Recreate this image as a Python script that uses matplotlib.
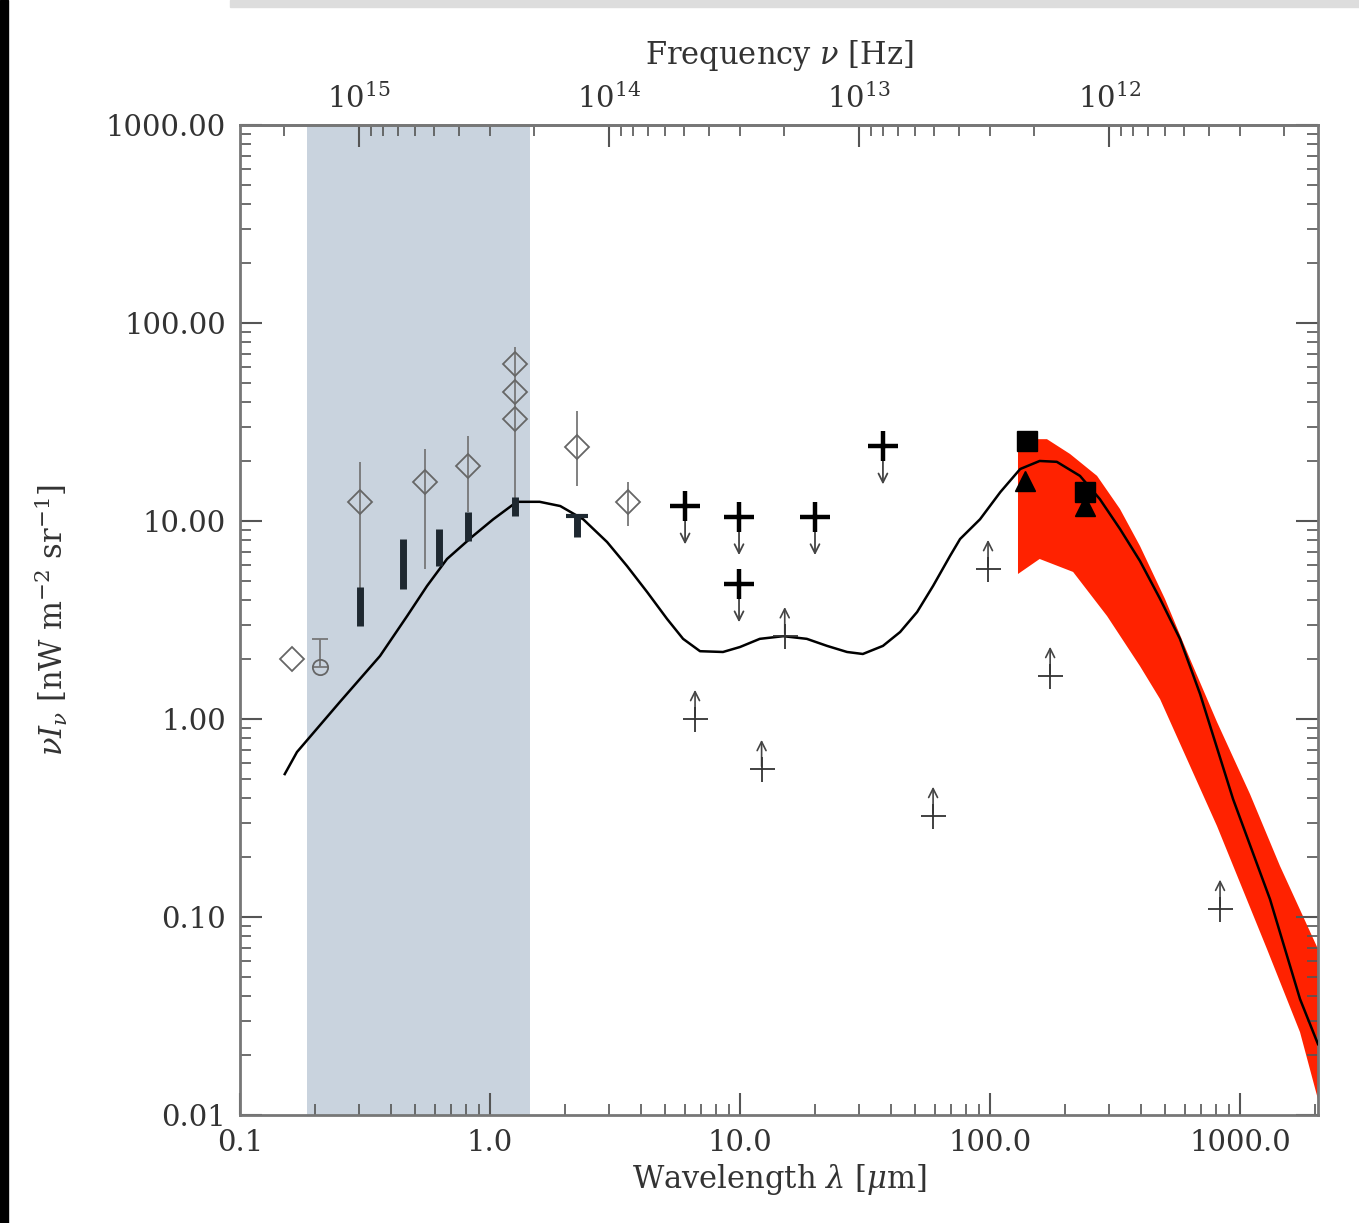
import numpy as np
import matplotlib
matplotlib.use("Agg")
import matplotlib.pyplot as plt
from matplotlib.patches import Rectangle
from matplotlib.ticker import FixedLocator, FormatStrFormatter, LogLocator, NullFormatter

plt.rcParams['font.family'] = ['DejaVu Serif']
plt.rcParams['mathtext.fontset'] = 'dejavuserif'

# ---------------- data ----------------
# model curve (wavelength [um], nu I_nu [nW m^-2 sr^-1])
model_lam = [0.151, 0.169, 0.251, 0.363, 0.466, 0.560, 0.673, 0.855, 1.03, 1.28, 1.58,
             1.91, 2.36, 2.94, 3.53, 4.25, 5.11, 5.92, 6.92, 8.55, 10.0, 12.0, 14.9,
             18.5, 22.3, 26.8, 31.0, 37.3, 43.7, 51.1, 59.2, 69.2, 75.9, 91.2, 110,
             132, 158, 185, 229, 275, 331, 398, 479, 575, 692, 938, 1318, 1738, 2051]
model_I = [0.527, 0.681, 1.22, 2.08, 3.31, 4.70, 6.43, 8.40, 10.2, 12.5, 12.5,
           11.9, 10.2, 7.83, 5.93, 4.38, 3.20, 2.54, 2.20, 2.18, 2.31, 2.54, 2.62,
           2.54, 2.34, 2.18, 2.13, 2.34, 2.75, 3.47, 4.70, 6.66, 8.11, 10.2, 14.0,
           18.3, 20.1, 19.9, 16.9, 12.9, 9.12, 6.28, 4.04, 2.54, 1.34, 0.394, 0.123,
           0.0385, 0.0228]

# red uncertainty band
band_up_lam = [129.4, 169, 209, 268, 331, 398, 501, 631, 809, 1096, 1445, 2051]
band_up_I = [25.9, 25.9, 21.8, 16.9, 11.5, 7.48, 4.04, 2.01, 0.966, 0.418, 0.181, 0.0689]
band_lo_lam = [129.4, 158, 215, 294, 398, 479, 809, 1282, 1738, 2051]
band_lo_I = [5.40, 6.43, 5.53, 3.31, 1.85, 1.26, 0.288, 0.0689, 0.0262, 0.0120]

# shaded band (optical / near-IR)
shade_range = [0.185, 1.45]

# open diamonds with error bars
dia_lam = [0.161, 0.302, 0.550, 0.817, 1.26, 1.26, 1.26, 2.23, 3.56]
dia_I = [2.01, 12.5, 15.7, 18.9, 62.1, 44.9, 32.7, 23.6, 12.5]
dia_lo = [2.01, 2.95, 5.72, 11.1, 10.6, 44.9, 32.7, 15.0, 9.44]
dia_hi = [2.01, 19.9, 23.1, 26.9, 75.7, 44.9, 32.7, 35.9, 15.7]

# open circle point
circ_lam = [0.209]
circ_I = [1.83]
circ_hi = [2.53]

# thick black range bars
bar_lam = [0.302, 0.449, 0.625, 0.817, 1.26, 2.23]
bar_lo = [2.95, 4.54, 5.93, 7.93, 10.6, 8.30]
bar_hi = [4.64, 8.11, 9.12, 11.1, 13.2, 10.6]

# upper limits (bold crosses with down arrows)
ul_lam = [6.03, 9.91, 9.91, 19.95, 37.3]
ul_I = [11.9, 10.5, 4.81, 10.5, 23.9]

# lower limits (thin crosses with up arrows)
ll_lam = [15.1, 6.61, 12.2, 59.2, 98.2, 174, 832]
ll_I = [2.62, 1.00, 0.559, 0.324, 5.72, 1.65, 0.110]

# filled squares and triangles
sq_lam = [141, 240]
sq_I = [25.4, 14.0]
tri_lam = [138, 240]
tri_I = [15.9, 11.9]

ytick_vals = [0.01, 0.1, 1.0, 10.0, 100.0, 1000.0]
xtick_vals = [0.1, 1.0, 10.0, 100.0, 1000.0]
nu_ticks = [1e12, 1e13, 1e14, 1e15]

# ---------------- figure ----------------
fig = plt.figure(figsize=(13.59, 12.23), dpi=100)
ax = fig.add_axes([240/1359, 1-1115/1223, (1318-240)/1359, (1115-125)/1223])
ax.set_xscale('log')
ax.set_yscale('log')
ax.set_xlim(0.1, 2051)
ax.set_ylim(0.01, 1000)

ax.axvspan(shade_range[0], shade_range[1], color='#c9d3de', zorder=0, lw=0)

ax.fill(np.concatenate([band_up_lam, band_lo_lam[::-1]]),
        np.concatenate([band_up_I, band_lo_I[::-1]]),
        color='#ff2200', lw=0, zorder=1)

ax.plot(model_lam, model_I, color='black', lw=1.8, zorder=3)

dl = np.array(dia_I) - np.array(dia_lo)
dh = np.array(dia_hi) - np.array(dia_I)
ax.errorbar(dia_lam, dia_I, yerr=[dl, dh], fmt='D', ms=12, mfc='none', mec='#666666',
            mew=1.3, ecolor='#777777', elinewidth=1.3, capsize=0, zorder=4)
ax.errorbar(circ_lam, circ_I, yerr=[[0], np.array(circ_hi) - np.array(circ_I)], fmt='o',
            ms=11, mfc='none', mec='#666666', mew=1.3, ecolor='#777777', elinewidth=1.3,
            capsize=6, zorder=4)

ax.vlines(bar_lam, bar_lo, bar_hi, colors='#1e2830', lw=5, zorder=5)
ax.plot([bar_lam[-1]], [bar_hi[-1]], marker='_', ms=16, mew=3, color='#1e2830', zorder=5)

for lam, val in zip(ul_lam, ul_I):
    ax.annotate('', xy=(lam, val * 0.62), xytext=(lam, val),
                arrowprops=dict(arrowstyle='->', lw=1.3, color='#444444', mutation_scale=16),
                zorder=5)
ax.plot(ul_lam, ul_I, ls='none', marker='+', ms=22, mew=3.2, color='black', zorder=6)

for lam, val in zip(ll_lam, ll_I):
    ax.annotate('', xy=(lam, val * 1.45), xytext=(lam, val),
                arrowprops=dict(arrowstyle='->', lw=1.2, color='#444444', mutation_scale=16),
                zorder=5)
ax.plot(ll_lam, ll_I, ls='none', marker='+', ms=18, mew=1.3, color='#333333', zorder=6)

ax.plot(sq_lam, sq_I, ls='none', marker='s', ms=15, color='black', zorder=7)
ax.plot(tri_lam, tri_I, ls='none', marker='^', ms=14, color='black', zorder=7)

# axes styling
for s in ax.spines.values():
    s.set_color('#777777')
    s.set_linewidth(2)

ax.xaxis.set_major_locator(FixedLocator(xtick_vals))
ax.xaxis.set_major_formatter(FormatStrFormatter('%.1f'))
ax.xaxis.set_minor_locator(LogLocator(base=10, subs=np.arange(2, 10)))
ax.xaxis.set_minor_formatter(NullFormatter())
ax.yaxis.set_major_locator(FixedLocator(ytick_vals))
ax.yaxis.set_major_formatter(FormatStrFormatter('%.2f'))
ax.yaxis.set_minor_locator(LogLocator(base=10, subs=np.arange(2, 10)))
ax.yaxis.set_minor_formatter(NullFormatter())
ax.tick_params(which='both', direction='in', top=False, right=True, color='#555555',
               labelsize=21, labelcolor='#333333')
ax.tick_params(which='major', length=16, width=1.5, pad=10)
ax.tick_params(which='minor', length=8, width=1.2)

ax.set_xlabel(r'Wavelength $\lambda$ [$\mu$m]', fontsize=22, color='#333333', labelpad=4)
ax.set_ylabel(r'$\nu I_\nu$ [nW m$^{-2}$ sr$^{-1}$]', fontsize=22, color='#333333')
ax.yaxis.set_label_coords(-0.158, 0.5)

c_um = 2.998e14
sec = ax.secondary_xaxis('top', functions=(lambda x: c_um / x, lambda x: c_um / x))
sec.set_xticks(nu_ticks)
sec.xaxis.set_minor_locator(LogLocator(base=10, subs=np.arange(2, 10)))
sec.xaxis.set_minor_formatter(NullFormatter())
sec.tick_params(which='both', direction='in', color='#555555', labelsize=21, labelcolor='#333333')
sec.tick_params(which='major', length=16, width=1.5, pad=8)
sec.tick_params(which='minor', length=8, width=1.2)
sec.set_xlabel(r'Frequency $\nu$ [Hz]', fontsize=22, color='#333333', labelpad=14)
sec.spines['top'].set_color('#777777')
sec.spines['top'].set_linewidth(2)

# scan border artefacts
fig.patches.append(Rectangle((0, 0), 8/1359, 1, transform=fig.transFigure, color='black', zorder=10))
fig.patches.append(Rectangle((230/1359, 1-7/1223), 1, 7/1223, transform=fig.transFigure,
                             color='#dddddd', zorder=10))

fig.savefig('out.png', dpi=100)
